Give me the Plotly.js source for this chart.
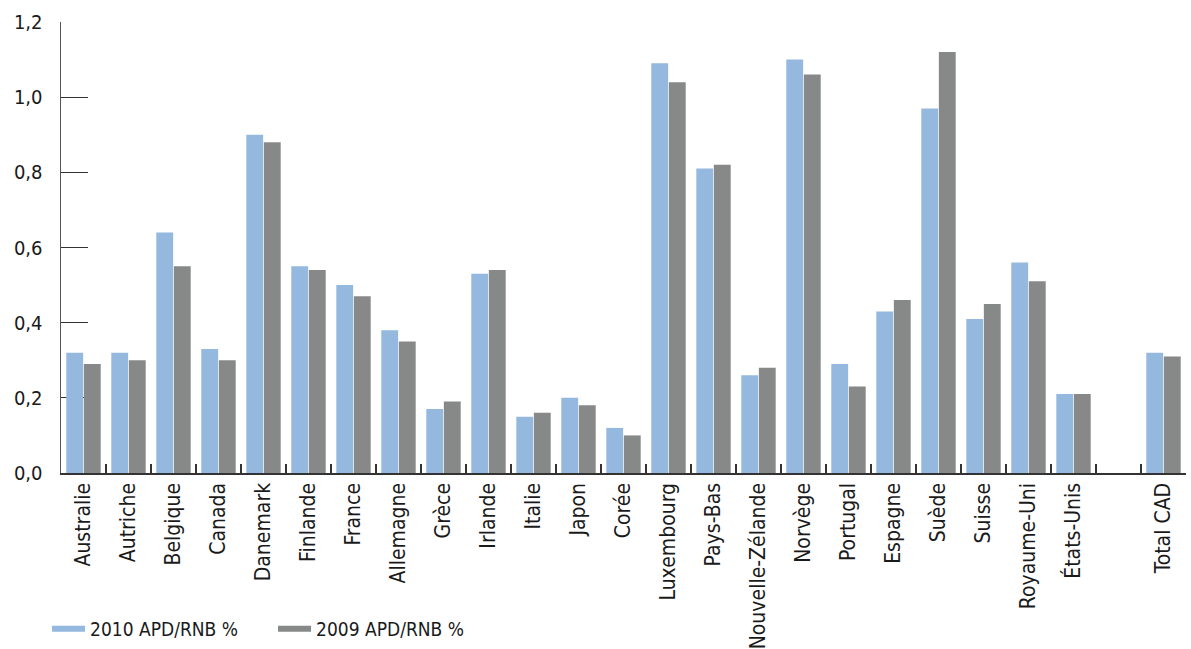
<!DOCTYPE html>
<html>
<head>
<meta charset="utf-8">
<script src="https://cdn.plot.ly/plotly-3.0.1.min.js"></script>
<style>html,body{margin:0;padding:0;background:#fff;}#chart{width:1191px;height:649px;}</style>
</head>
<body>
<div id="chart"></div>
<script>
const categories = ["Australie","Autriche","Belgique","Canada","Danemark","Finlande","France","Allemagne","Grèce","Irlande","Italie","Japon","Corée","Luxembourg","Pays-Bas","Nouvelle-Zélande","Norvège","Portugal","Espagne","Suède","Suisse","Royaume-Uni","États-Unis"," ","Total CAD"];
const apd2010 = [0.32,0.32,0.64,0.33,0.90,0.55,0.50,0.38,0.17,0.53,0.15,0.20,0.12,1.09,0.81,0.26,1.10,0.29,0.43,0.97,0.41,0.56,0.21,null,0.32];
const apd2009 = [0.29,0.30,0.55,0.30,0.88,0.54,0.47,0.35,0.19,0.54,0.16,0.18,0.10,1.04,0.82,0.28,1.06,0.23,0.46,1.12,0.45,0.51,0.21,null,0.31];
const seriesNames = ["2010 APD/RNB %","2009 APD/RNB %"];
const colors = ["#95b8de","#878888"];

const fontFam = "'DejaVu Sans Condensed', 'DejaVu Sans', sans-serif";

const traces = [
  {type:"bar", x:categories, y:apd2010, name:seriesNames[0], marker:{color:colors[0]}, showlegend:false, hoverinfo:"x+y"},
  {type:"bar", x:categories, y:apd2009, name:seriesNames[1], marker:{color:colors[1]}, showlegend:false, hoverinfo:"x+y"},
  {type:"scatter", mode:"lines", x:[categories[0]], y:[null], name:seriesNames[0], line:{color:colors[0], width:6}, showlegend:true, hoverinfo:"skip"},
  {type:"scatter", mode:"lines", x:[categories[0]], y:[null], name:seriesNames[1], line:{color:colors[1], width:6}, showlegend:true, hoverinfo:"skip"}
];

const layout = {
  width:1191, height:649,
  margin:{l:61, r:5, t:22, b:176},
  paper_bgcolor:"#fff", plot_bgcolor:"#fff",
  font:{family:fontFam, size:20, color:"#1a1a1a"},
  separators:",.",
  barmode:"group",
  bargap:0.22,
  bargroupgap:0.04,
  xaxis:{
    type:"category",
    categoryorder:"array", categoryarray:categories,
    showline:true, linecolor:"#333", linewidth:1.5,
    ticks:"inside", ticklen:9, tickcolor:"#333", tickwidth:1.5,
    tickson:"boundaries",
    tickangle:-90,
    tickfont:{family:fontFam, size:21, color:"#1a1a1a"},
    showgrid:false, zeroline:false,
    layer:"below traces",
    fixedrange:true
  },
  yaxis:{
    range:[0,1.2], dtick:0.2, tick0:0, tickformat:".1f",
    showline:true, linecolor:"#555", linewidth:1.5,
    ticks:"inside", ticklen:27, tickcolor:"#333", tickwidth:1.2,
    tickfont:{family:fontFam, size:20, color:"#1a1a1a"},
    ticklabelstandoff:13,
    showgrid:false, zeroline:false,
    layer:"below traces",
    fixedrange:true
  },
  legend:{
    orientation:"h",
    xref:"container", yref:"container",
    x:0.0395, y:0.031, xanchor:"left", yanchor:"middle",
    font:{family:fontFam, size:19, color:"#1a1a1a"},
    itemwidth:33,
    entrywidth:178, entrywidthmode:"pixels",
    tracegroupgap:0,
    bgcolor:"rgba(0,0,0,0)"
  },
  showlegend:true
};

Plotly.newPlot("chart", traces, layout, {displayModeBar:false, staticPlot:true});
</script>
</body>
</html>
